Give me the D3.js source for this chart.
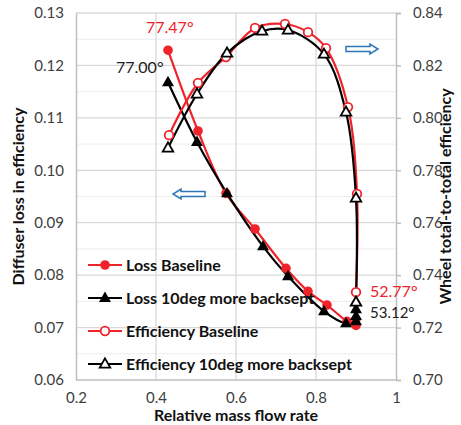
<!DOCTYPE html>
<html>
<head>
<meta charset="utf-8">
<script src="https://cdn.jsdelivr.net/npm/d3@7"></script>
<style>
  body { margin: 0; background: #fff; }
  svg { font-family: Lato, "Open Sans", sans-serif; }
</style>
</head>
<body>
<svg id="canvas" width="461" height="425"></svg>
<script>
// data: [relative mass flow, value]
let lossBase = [[0.43,0.1229],[0.505,0.1075],[0.575,0.0956],[0.6475,0.0888],[0.725,0.0813],[0.78,0.0769],[0.8275,0.0743],[0.8775,0.0712],[0.9,0.0704],[0.9,0.0716]]
let lossBack = [[0.43,0.1168],[0.5025,0.1054],[0.5775,0.0956],[0.6675,0.0855],[0.73,0.0798],[0.82,0.0731],[0.875,0.0708],[0.9,0.0712],[0.9,0.0722],[0.9,0.0735]]
let effBase = [[0.4325,0.7934],[0.505,0.8133],[0.575,0.8232],[0.6475,0.8343],[0.7225,0.8358],[0.78,0.8327],[0.825,0.8266],[0.88,0.8041],[0.9025,0.771],[0.9,0.7335]]
let effBack = [[0.43,0.7885],[0.5025,0.8091],[0.5775,0.8247],[0.665,0.8331],[0.73,0.8335],[0.82,0.8243],[0.875,0.8022],[0.9,0.7694],[0.9,0.7297]]

let xTicks = [0.2, 0.4, 0.6, 0.8, 1]
let yLeftTicks = [0.06, 0.07, 0.08, 0.09, 0.10, 0.11, 0.12, 0.13]
let yRightTicks = [0.70, 0.72, 0.74, 0.76, 0.78, 0.80, 0.82, 0.84]

let legendNames = ["Loss Baseline", "Loss 10deg more backsept", "Efficiency Baseline", "Efficiency 10deg more backsept"]

let canvas = d3.select("#canvas")

let pLeft = 76, pRight = 396, pTop = 13, pBottom = 380

let x = d3.scaleLinear().domain([0.2, 1]).range([pLeft, pRight])
let yL = d3.scaleLinear().domain([0.06, 0.13]).range([pBottom, pTop])
let yR = d3.scaleLinear().domain([0.70, 0.84]).range([pBottom, pTop])

// minor gridlines
let minor = d3.range(0.065, 0.13, 0.01)
canvas.append('g').selectAll('line')
    .data(minor)
    .enter()
    .append('line')
    .attr('x1', pLeft).attr('x2', pRight)
    .attr('y1', d => yL(d)).attr('y2', d => yL(d))
    .attr('stroke', '#ececec')
    .attr('stroke-width', 1)

// major gridlines
canvas.append('g').selectAll('line')
    .data(yLeftTicks.slice(1))
    .enter()
    .append('line')
    .attr('x1', pLeft).attr('x2', pRight)
    .attr('y1', d => yL(d)).attr('y2', d => yL(d))
    .attr('stroke', '#d9d9d9')
    .attr('stroke-width', 1.3)

canvas.append('g').selectAll('line')
    .data(xTicks.slice(1, -1))
    .enter()
    .append('line')
    .attr('x1', d => x(d)).attr('x2', d => x(d))
    .attr('y1', pTop).attr('y2', pBottom)
    .attr('stroke', '#d9d9d9')
    .attr('stroke-width', 1.3)

// axes
let axisColor = '#bfbfbf'
let leftAxis = canvas.append('g')
    .attr('transform', 'translate(' + pLeft + ',0)')
    .call(d3.axisLeft(yL).tickValues(yLeftTicks).tickSize(0).tickPadding(12).tickFormat(d3.format('.2f')))
let rightAxis = canvas.append('g')
    .attr('transform', 'translate(' + pRight + ',0)')
    .call(d3.axisRight(yR).tickValues(yRightTicks).tickSize(5).tickPadding(12).tickFormat(d3.format('.2f')))
let bottomAxis = canvas.append('g')
    .attr('transform', 'translate(0,' + pBottom + ')')
    .call(d3.axisBottom(x).tickValues(xTicks).tickSize(0).tickPadding(12).tickFormat(d => d === 1 ? '1' : d3.format('.1f')(d)))

;[leftAxis, rightAxis, bottomAxis].forEach(a => {
    a.select('.domain').attr('stroke', axisColor).attr('stroke-width', 1.5)
    a.selectAll('.tick line').attr('stroke', axisColor).attr('stroke-width', 1.5)
    a.selectAll('text').attr('font-size', 15).attr('fill', '#404040').attr('font-family', 'Lato, sans-serif')
})
bottomAxis.select('.domain').attr('d', 'M' + pLeft + ',0H' + pRight)

// axis titles
canvas.append('text')
    .text('Relative mass flow rate')
    .attr('x', (pLeft + pRight) / 2).attr('y', 421)
    .attr('text-anchor', 'middle')
    .attr('font-size', 16).attr('font-weight', 'bold').attr('fill', '#111')

canvas.append('text')
    .text('Diffuser loss in efficiency')
    .attr('transform', 'translate(24,' + (pTop + pBottom) / 2 + ') rotate(-90)')
    .attr('text-anchor', 'middle')
    .attr('font-size', 16).attr('font-weight', 'bold').attr('fill', '#111')

canvas.append('text')
    .text('Wheel total-to-total efficiency')
    .attr('transform', 'translate(451,' + (pTop + pBottom) / 2 + ') rotate(-90)')
    .attr('text-anchor', 'middle')
    .attr('font-size', 16).attr('font-weight', 'bold').attr('fill', '#111')

// series
let series = [
    {data: lossBase, y: yL, color: '#f0222a', marker: 'circle', fill: true},
    {data: lossBack, y: yL, color: '#000000', marker: 'triangle', fill: true},
    {data: effBase, y: yR, color: '#f0222a', marker: 'circle', fill: false},
    {data: effBack, y: yR, color: '#000000', marker: 'triangle', fill: false}
]

let drawMarker = (g, s, cx, cy) => {
    if (s.marker === 'circle') {
        g.append('circle')
            .attr('cx', cx).attr('cy', cy)
            .attr('r', s.fill ? 4.8 : 4.3)
            .attr('fill', s.fill ? s.color : '#fff')
            .attr('stroke', s.color)
            .attr('stroke-width', s.fill ? 0 : 1.8)
    } else {
        g.append('path')
            .attr('d', d3.symbol().type(d3.symbolTriangle).size(s.fill ? 62 : 48)())
            .attr('transform', 'translate(' + cx + ',' + (cy + 0.5) + ')')
            .attr('fill', s.fill ? s.color : '#fff')
            .attr('stroke', s.color)
            .attr('stroke-width', s.fill ? 0 : 1.8)
    }
}

series.forEach(s => {
    let line = d3.line()
        .x(d => x(d[0]))
        .y(d => s.y(d[1]))
        .curve(d3.curveCatmullRom.alpha(0.5))
    canvas.append('path')
        .datum(s.data)
        .attr('d', line)
        .attr('fill', 'none')
        .attr('stroke', s.color)
        .attr('stroke-width', 2.2)
})

series.forEach(s => {
    let g = canvas.append('g')
    s.data.forEach(d => drawMarker(g, s, x(d[0]), s.y(d[1])))
})

// angle annotations
canvas.append('text').text('77.47°')
    .attr('x', x(lossBase[0][0]) - 22).attr('y', yL(lossBase[0][1]) - 17)
    .attr('font-size', 16).attr('fill', '#f0222a')
canvas.append('text').text('77.00°')
    .attr('x', x(lossBack[0][0]) - 52).attr('y', yL(lossBack[0][1]) - 9)
    .attr('font-size', 16).attr('fill', '#222')
canvas.append('text').text('52.77°')
    .attr('x', x(0.9) + 14).attr('y', yR(effBase[effBase.length - 1][1]) + 5)
    .attr('font-size', 16).attr('fill', '#f0222a')
canvas.append('text').text('53.12°')
    .attr('x', x(0.9) + 14).attr('y', yL(0.0708) - 5)
    .attr('font-size', 15).attr('fill', '#222')

// hollow blue arrows
let arrow = (cx, cy, dir) => {
    let w = 32, h = 5, head = 8, hh = 5
    let pts = [
        [-w / 2, -h / 2], [w / 2 - head, -h / 2], [w / 2 - head, -hh], [w / 2, 0],
        [w / 2 - head, hh], [w / 2 - head, h / 2], [-w / 2, h / 2]
    ]
    canvas.append('path')
        .attr('d', 'M' + pts.map(p => p.join(',')).join('L') + 'Z')
        .attr('transform', 'translate(' + cx + ',' + cy + ') scale(' + dir + ',1)')
        .attr('fill', '#fff')
        .attr('stroke', '#2e75b6')
        .attr('stroke-width', 1.5)
}
arrow(189, 194, -1)
arrow(362, 49, 1)

// legend
let legend = canvas.append('g')
legendNames.forEach((name, i) => {
    let ly = 265 + i * 33
    let s = series[i]
    legend.append('line')
        .attr('x1', 88).attr('x2', 122)
        .attr('y1', ly).attr('y2', ly)
        .attr('stroke', s.color).attr('stroke-width', 2.2)
    drawMarker(legend, s, 105, ly)
    legend.append('text')
        .text(name)
        .attr('x', 126).attr('y', ly + 5.5)
        .attr('font-size', 16).attr('font-weight', 'bold').attr('fill', '#111')
})
</script>
</body>
</html>
